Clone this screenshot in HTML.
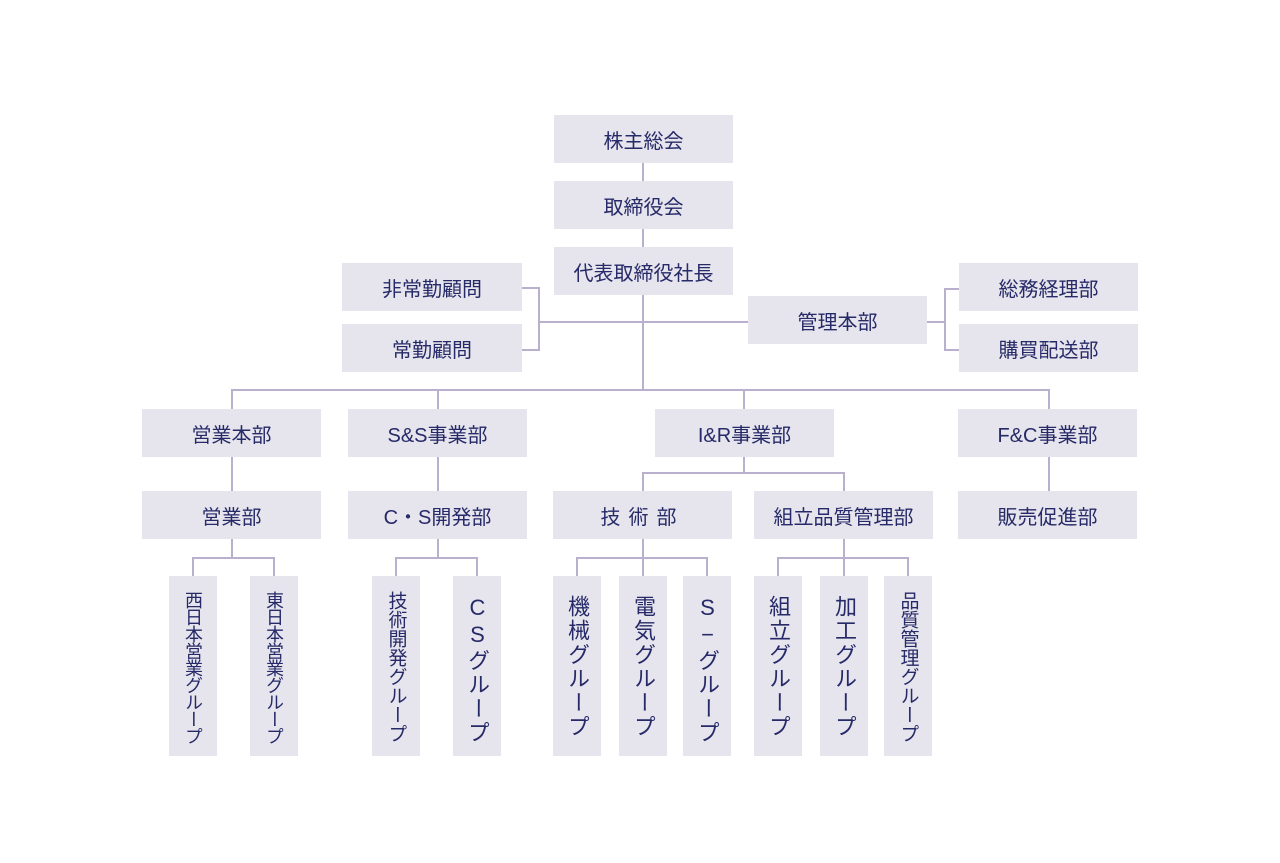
<!DOCTYPE html>
<html><head><meta charset="utf-8"><style>
body{margin:0;width:1280px;height:863px;background:#fff;position:relative;overflow:hidden;font-family:"Liberation Sans","Noto Sans CJK JP",sans-serif;color:#262a68}
.b{position:absolute;background:#e6e4ec;display:flex;align-items:center;justify-content:center;font-size:20px;height:48px;width:179px;white-space:nowrap}
.v{position:absolute;background:#e6e4ec;width:48px;height:180px;top:576px;display:flex;justify-content:center;overflow:hidden}
.v span{writing-mode:vertical-rl;text-orientation:upright;font-size:20px;margin-top:15px;white-space:nowrap;height:auto}
.h{position:absolute;height:2px;background:#b8b0cc}
.l{position:absolute;width:2px;background:#b8b0cc}
</style></head><body>
<div class="l" style="left:642px;top:163px;height:228px"></div>
<div class="h" style="left:522px;top:287px;width:18px"></div>
<div class="h" style="left:522px;top:349px;width:18px"></div>
<div class="l" style="left:538px;top:287px;height:64px"></div>
<div class="h" style="left:538px;top:321px;width:210px"></div>
<div class="h" style="left:927px;top:321px;width:19px"></div>
<div class="l" style="left:944px;top:288px;height:63px"></div>
<div class="h" style="left:944px;top:288px;width:15px"></div>
<div class="h" style="left:944px;top:349px;width:15px"></div>
<div class="h" style="left:231px;top:389px;width:819px"></div>
<div class="l" style="left:231px;top:389px;height:20px"></div>
<div class="l" style="left:437px;top:389px;height:20px"></div>
<div class="l" style="left:743px;top:389px;height:20px"></div>
<div class="l" style="left:1048px;top:389px;height:20px"></div>
<div class="l" style="left:231px;top:457px;height:34px"></div>
<div class="l" style="left:437px;top:457px;height:34px"></div>
<div class="l" style="left:1048px;top:457px;height:34px"></div>
<div class="l" style="left:743px;top:457px;height:16px"></div>
<div class="h" style="left:642px;top:472px;width:203px"></div>
<div class="l" style="left:642px;top:472px;height:19px"></div>
<div class="l" style="left:843px;top:472px;height:19px"></div>
<div class="l" style="left:231px;top:539px;height:19px"></div>
<div class="h" style="left:192px;top:557px;width:83px"></div>
<div class="l" style="left:192px;top:557px;height:19px"></div>
<div class="l" style="left:273px;top:557px;height:19px"></div>
<div class="l" style="left:437px;top:539px;height:19px"></div>
<div class="h" style="left:395px;top:557px;width:83px"></div>
<div class="l" style="left:395px;top:557px;height:19px"></div>
<div class="l" style="left:476px;top:557px;height:19px"></div>
<div class="l" style="left:642px;top:539px;height:37px"></div>
<div class="h" style="left:576px;top:557px;width:132px"></div>
<div class="l" style="left:576px;top:557px;height:19px"></div>
<div class="l" style="left:706px;top:557px;height:19px"></div>
<div class="l" style="left:843px;top:539px;height:37px"></div>
<div class="h" style="left:777px;top:557px;width:132px"></div>
<div class="l" style="left:777px;top:557px;height:19px"></div>
<div class="l" style="left:907px;top:557px;height:19px"></div>
<div class="b" style="left:554px;top:115px">株主総会</div>
<div class="b" style="left:554px;top:181px">取締役会</div>
<div class="b" style="left:554px;top:247px">代表取締役社長</div>
<div class="b" style="left:342px;top:263px;width:180px">非常勤顧問</div>
<div class="b" style="left:342px;top:324px;width:180px">常勤顧問</div>
<div class="b" style="left:748px;top:296px">管理本部</div>
<div class="b" style="left:959px;top:263px">総務経理部</div>
<div class="b" style="left:959px;top:324px">購買配送部</div>
<div class="b" style="left:142px;top:409px">営業本部</div>
<div class="b" style="left:348px;top:409px">S&amp;S事業部</div>
<div class="b" style="left:655px;top:409px">I&amp;R事業部</div>
<div class="b" style="left:958px;top:409px">F&amp;C事業部</div>
<div class="b" style="left:142px;top:491px">営業部</div>
<div class="b" style="left:348px;top:491px">C・S開発部</div>
<div class="b" style="left:553px;top:491px;letter-spacing:8px">技術部</div>
<div class="b" style="left:754px;top:491px">組立品質管理部</div>
<div class="b" style="left:958px;top:491px">販売促進部</div>
<div class="v" style="left:169px"><span style="font-size:18px;letter-spacing:-1px">西日本営業グループ</span></div>
<div class="v" style="left:250px"><span style="font-size:18px;letter-spacing:-1px">東日本営業グループ</span></div>
<div class="v" style="left:372px"><span style="font-size:19px;letter-spacing:0px">技術開発グループ</span></div>
<div class="v" style="left:453px"><span style="font-size:22px;letter-spacing:2px;margin-top:19px">CSグループ</span></div>
<div class="v" style="left:553px"><span style="font-size:22px;letter-spacing:2px;margin-top:19px">機械グループ</span></div>
<div class="v" style="left:619px"><span style="font-size:22px;letter-spacing:2px;margin-top:19px">電気グループ</span></div>
<div class="v" style="left:683px"><span style="font-size:22px;letter-spacing:2px;margin-top:19px">S−グループ</span></div>
<div class="v" style="left:754px"><span style="font-size:22px;letter-spacing:2px;margin-top:19px">組立グループ</span></div>
<div class="v" style="left:820px"><span style="font-size:22px;letter-spacing:2px;margin-top:19px">加工グループ</span></div>
<div class="v" style="left:884px"><span style="font-size:19px;letter-spacing:0px">品質管理グループ</span></div>
</body></html>
